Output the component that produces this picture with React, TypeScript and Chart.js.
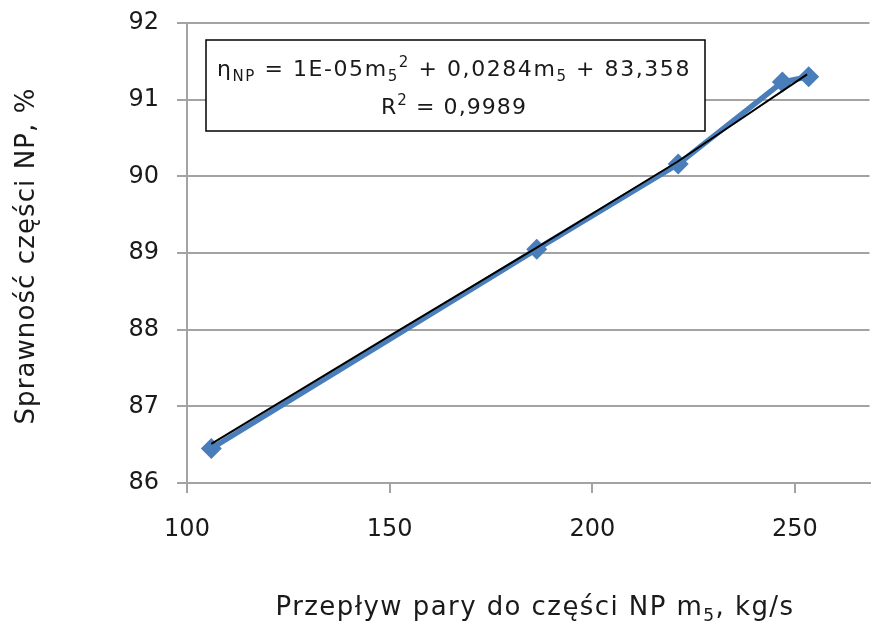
import React, { useEffect, useRef } from "react";
import { Chart, registerables } from "chart.js";

Chart.register(...registerables);

// ---- data ----
const flowValues = [106.0, 186.3, 221.2, 246.9, 253.4]; // m5, kg/s
const efficiencyValues = [86.45, 89.05, 90.16, 91.23, 91.3]; // %
const trendFlow = [106, 150, 186, 221, 253];
const trendEfficiency = [86.51, 87.92, 89.06, 90.19, 91.33];
const xTickValues = [100, 150, 200, 250];
const yTickValues = [86, 87, 88, 89, 90, 91, 92];

const yTitleRuns = [{ t: "Sprawność części NP, %", s: "n" }];
const xTitleRuns = [
  { t: "Przepływ pary do części NP m", s: "n" },
  { t: "5", s: "sub" },
  { t: ", kg/s", s: "n" },
];
const eqRuns = [
  { t: "η", s: "n" },
  { t: "NP", s: "sub" },
  { t: " = 1E-05m", s: "n" },
  { t: "5", s: "sub" },
  { t: "2", s: "sup" },
  { t: " + 0,0284m", s: "n" },
  { t: "5", s: "sub" },
  { t: " + 83,358", s: "n" },
];
const r2Runs = [
  { t: "R", s: "n" },
  { t: "2", s: "sup" },
  { t: " = 0,9989", s: "n" },
];

const FONT = "'DejaVu Sans', 'Open Sans', sans-serif";
const TEXT = "#1a1a1a";
const GRID = "#a3a3a3";
const BLUE = "#4A7EBB";

type Run = { t: string; s: string };

function drawRuns(
  ctx: CanvasRenderingContext2D,
  runs: Run[],
  cx: number,
  baseline: number,
  size: number,
  targetWidth: number
) {
  const fontFor = (s: string) => `${s === "n" ? size : Math.round(size * 0.66)}px ${FONT}`;
  const c: any = ctx;
  const supported = "letterSpacing" in c;
  if (supported) c.letterSpacing = "0px";
  let natural = 0;
  let chars = 0;
  const widths: number[] = [];
  runs.forEach((r) => {
    ctx.font = fontFor(r.s);
    const w = ctx.measureText(r.t).width;
    widths.push(w);
    natural += w;
    chars += Array.from(r.t).length;
  });
  const sp = supported ? (targetWidth - natural) / chars : 0;
  const total = natural + sp * chars;
  let x = cx - total / 2;
  ctx.textAlign = "left";
  ctx.textBaseline = "alphabetic";
  runs.forEach((r, i) => {
    ctx.font = fontFor(r.s);
    if (supported) c.letterSpacing = `${sp}px`;
    const dy = r.s === "sub" ? size * 0.22 : r.s === "sup" ? -size * 0.4 : 0;
    ctx.fillText(r.t, x, baseline + dy);
    x += widths[i] + sp * Array.from(r.t).length;
  });
  if (supported) c.letterSpacing = "0px";
}

const decorPlugin = {
  id: "decor",
  beforeDatasetsDraw(chart: any) {
    const ctx = chart.ctx as CanvasRenderingContext2D;
    ctx.save();
    ctx.fillStyle = "#ffffff";
    ctx.fillRect(206, 40, 499, 91);
    ctx.strokeStyle = "#000000";
    ctx.lineWidth = 1.5;
    ctx.strokeRect(206, 40, 499, 91);
    ctx.fillStyle = TEXT;
    drawRuns(ctx, eqRuns, 454, 76, 22, 474);
    drawRuns(ctx, r2Runs, 454, 114, 22, 146);
    ctx.restore();
  },
  afterDraw(chart: any) {
    const ctx = chart.ctx as CanvasRenderingContext2D;
    ctx.save();
    ctx.fillStyle = TEXT;
    ctx.translate(34, 256);
    ctx.rotate(-Math.PI / 2);
    drawRuns(ctx, yTitleRuns, 0, 0, 26, 337);
    ctx.restore();
    ctx.save();
    ctx.fillStyle = TEXT;
    drawRuns(ctx, xTitleRuns, 535, 615, 26, 519);
    ctx.restore();
  },
};

export default function App() {
  const ref = useRef<HTMLCanvasElement | null>(null);
  useEffect(() => {
    if (!ref.current) return;
    const chart = new Chart(ref.current, {
      type: "scatter",
      data: {
        datasets: [
          {
            label: "trend",
            data: trendFlow.map((x, i) => ({ x, y: trendEfficiency[i] })),
            showLine: true,
            borderColor: "#000000",
            borderWidth: 2,
            pointRadius: 0,
            order: 0,
          },
          {
            label: "data",
            data: flowValues.map((x, i) => ({ x, y: efficiencyValues[i] })),
            showLine: true,
            borderColor: BLUE,
            backgroundColor: BLUE,
            borderWidth: 5.5,
            pointStyle: "rectRot",
            pointRadius: 10.5,
            pointBorderWidth: 0,
            order: 1,
          },
        ],
      },
      options: {
        responsive: false,
        animation: false,
        layout: { padding: { top: 23, right: 0, bottom: 0, left: 0 } },
        plugins: { legend: { display: false }, tooltip: { enabled: false } },
        scales: {
          x: {
            type: "linear",
            min: 100,
            max: 268.4,
            afterBuildTicks: (s: any) => {
              s.ticks = xTickValues.map((v) => ({ value: v }));
            },
            afterFit: (s: any) => {
              s.height = 142;
            },
            ticks: { font: { family: FONT, size: 24 }, color: TEXT, padding: 22, maxRotation: 0 },
            grid: { drawOnChartArea: false, tickLength: 10, color: GRID, lineWidth: 2 },
            border: { color: GRID, width: 2 },
          },
          y: {
            type: "linear",
            min: 86,
            max: 92,
            afterBuildTicks: (s: any) => {
              s.ticks = yTickValues.map((v) => ({ value: v }));
            },
            afterFit: (s: any) => {
              s.width = 187;
              s.paddingTop = 0;
              s.paddingBottom = 0;
            },
            ticks: { font: { family: FONT, size: 24 }, color: TEXT, padding: 18 },
            grid: { color: GRID, lineWidth: 2, tickLength: 10 },
            border: { color: GRID, width: 2 },
          },
        },
      },
      plugins: [decorPlugin],
    });
    return () => chart.destroy();
  }, []);
  return (
    <div
      style={{
        position: "fixed",
        left: 0,
        top: 0,
        width: 871,
        height: 625,
        overflow: "hidden",
        background: "#fff",
      }}
    >
      <canvas ref={ref} width={880} height={625} style={{ display: "block" }} />
    </div>
  );
}
